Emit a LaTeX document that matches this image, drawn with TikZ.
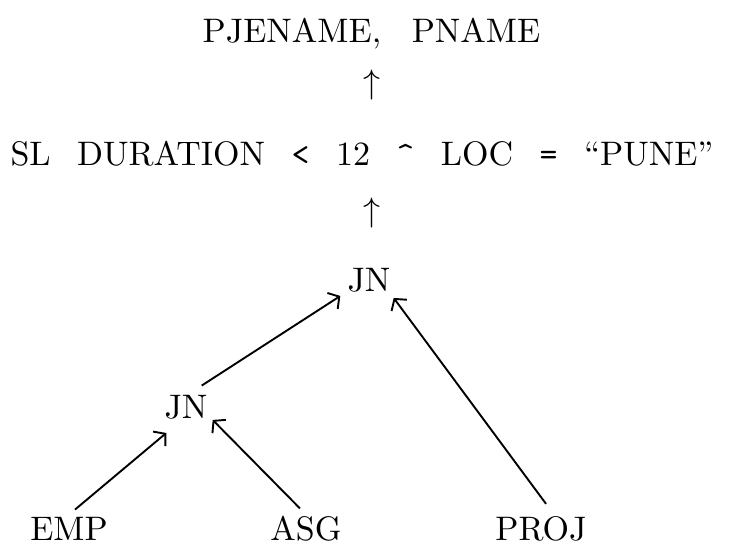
\RequirePackage{fix-cm}
\documentclass[tikz,border=0pt]{standalone}
\usepackage{fontspec}
\setmainfont{lmroman10-regular}[Extension=.otf, Ligatures=TeX]
\setmonofont{lmmono10-regular}[Extension=.otf]
\usetikzlibrary{arrows.meta}
\begin{document}
\begin{tikzpicture}[x=1pt,y=-1pt,
  lbl/.style={inner sep=0pt, anchor=base, font=\fontsize{34}{40}\selectfont},
  conn/.style={line width=1.9pt, -{Straight Barb[length=8pt,width=19pt,line width=1.9pt]}}]
\useasboundingbox (0,0) rectangle (730,550);
\newcommand\gap{\hspace{0.78em}}
\node[lbl] (title) at (371.5,42) {PJENAME,\hspace{0.9em}PNAME};
\node[lbl] (up1) at (372,93.4) {$\uparrow$};
\node[lbl] (cond) at (362,165) {SL\gap DURATION\gap \texttt{<}\gap 12\gap \texttt{\^{}}\gap LOC\gap \texttt{=}\gap ``PUNE''};
\node[lbl] (up2) at (372,221.4) {$\uparrow$};
\node[lbl] (jn2) at (369,291) {JN};
\node[lbl] (jn1) at (186,418) {JN};
\node[lbl] (emp) at (69,540) {EMP};
\node[lbl] (asg) at (306,540) {ASG};
\node[lbl] (proj) at (541,540) {PROJ};
\draw[conn] ([shift={(6,-7)}]emp.north) -- ([shift={(2,14)}]jn1.south west);
\draw[conn] ([shift={(-6,-7)}]asg.north) -- ([shift={(5,1)}]jn1.south east);
\draw[conn] ([shift={(-6,-9)}]jn1.north east) -- ([shift={(-7,4)}]jn2.south west);
\draw[conn] ([shift={(5,-12)}]proj.north) -- ([shift={(3,6)}]jn2.south east);
\end{tikzpicture}
\end{document}
